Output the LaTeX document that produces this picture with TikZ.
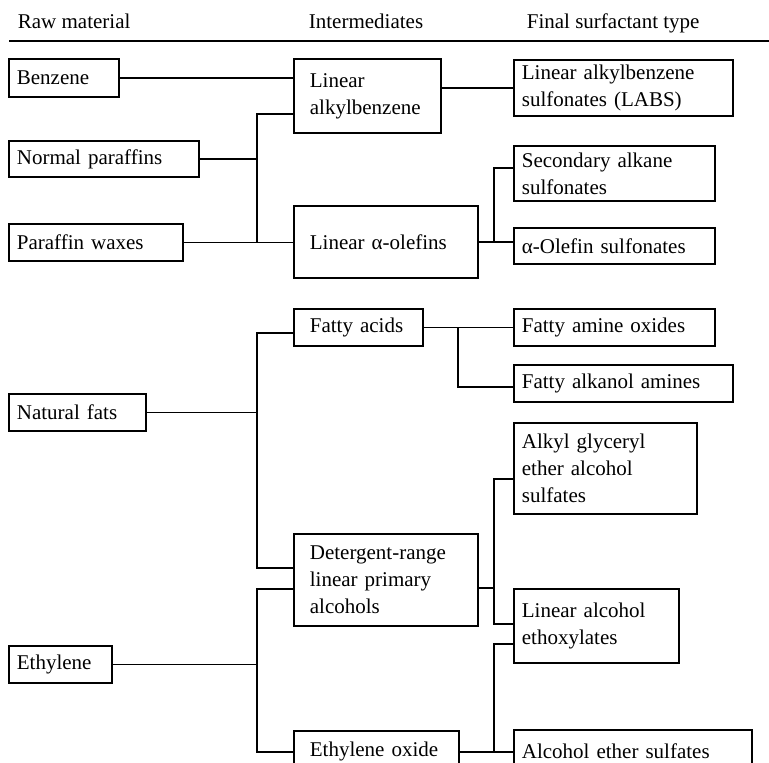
\documentclass[tikz,border=0pt]{standalone}
\usepackage{fontspec}
\setmainfont{Liberation Serif}
\tikzset{x=1pt, y=-1pt,
every node/.style={font=\fontsize{21}{27}\selectfont},
box/.style={ % Sets the properties for each box
draw,
anchor=north west,
align=left,
inner ysep=0pt},
rawbox/.style={box, inner xsep=8pt},
midbox/.style={box, inner xsep=16pt},
endbox/.style={box, inner xsep=8pt},
head/.style={anchor=base west, inner sep=0pt}} % Column titles
\begin{document}
\begin{tikzpicture}[line width=1.8pt]
\useasboundingbox (0,0) rectangle (769,763);
\clip (0,0) rectangle (769,763);
\node[head] (hraw) at (17,28) {Raw material};
\node[head] (hmid) at (308,28) {Intermediates};
\node[head] (hend) at (526,28) {Final surfactant type};
\draw[line width=1.5pt] (9,41) -- (769,41);
\node[rawbox, text width=94pt, minimum height=38pt] (bz) at (8,58) {Benzene};
\node[rawbox, text width=174pt, minimum height=36pt] (np) at (8,140) {Normal paraffins};
\node[rawbox, text width=158pt, minimum height=37pt] (pw) at (8,223) {Paraffin waxes};
\node[rawbox, text width=121pt, minimum height=37pt] (nf) at (8,393) {Natural fats};
\node[rawbox, text width=87pt, minimum height=37pt] (eth) at (8,645) {Ethylene};
\node[midbox, text width=115pt, minimum height=74pt] (lab) at (293,58) {Linear\\alkylbenzene};
\node[midbox, text width=152pt, minimum height=72pt] (lao) at (293,205) {Linear α-olefins};
\node[midbox, text width=97pt, minimum height=37pt] (fa) at (293,308) {Fatty acids};
\node[midbox, text width=152pt, minimum height=92pt] (dr) at (293,533) {Detergent-range\\linear primary\\alcohols};
\node[midbox, text width=133pt, minimum height=42pt] (eo) at (293,730) {Ethylene oxide};
\node[endbox, text width=203pt, minimum height=56pt] (labs) at (513,59) {Linear alkylbenzene\\ sulfonates (LABS)};
\node[endbox, text width=185pt, minimum height=55pt] (sas) at (513,145) {Secondary alkane\\sulfonates};
\node[endbox, text width=185pt, minimum height=36pt] (aos) at (513,227) {α-Olefin sulfonates};
\node[endbox, text width=185pt, minimum height=37pt] (fao) at (513,308) {Fatty amine oxides};
\node[endbox, text width=203pt, minimum height=37pt] (faa) at (513,364) {Fatty alkanol amines};
\node[endbox, text width=167pt, minimum height=91pt] (ageas) at (513,422) {Alkyl glyceryl\\ether alcohol\\sulfates};
\node[endbox, text width=149pt, minimum height=74pt] (lae) at (513,588) {Linear alcohol\\ethoxylates};
\node[endbox, text width=222pt, minimum height=42pt] (aes) at (513,729) {Alcohol ether sulfates};
\coordinate (j1) at (257,114);
\coordinate (j2) at (494,168);
\coordinate (j3) at (257,333);
\coordinate (j4) at (257,568);
\coordinate (j5) at (458,387);
\coordinate (j6) at (494,479);
\coordinate (j7) at (494,624);
\coordinate (j8) at (494,588);
\coordinate (j9) at (257,589);
\coordinate (j10) at (257,752);
\coordinate (j11) at (494,644);
\coordinate (j12) at (494,752);
\draw (bz.east) -- (bz.east -| lab.west);
\draw (np.east) -- (np.east -| j1);
\draw (pw.east) -- (pw.east -| lao.west);
\draw (j1 |- pw.east) -- (j1) -- (j1 -| lab.west);
\draw (labs.west) -- (labs.west -| lab.east);
\draw (lao.east) -- (lao.east -| aos.west);
\draw (j2 -| sas.west) -- (j2) -- (j2 |- lao.east);
\draw (j3 -| fa.west) -- (j3) -- (j4) -- (j4 -| dr.west);
\draw (nf.east) -- (nf.east -| j3);
\draw (fa.east) -- (fa.east -| fao.west);
\draw (j5 |- fa.east) -- (j5) -- (j5 -| faa.west);
\draw (j6 -| ageas.west) -- (j6) -- (j7) -- (j7 -| lae.west);
\draw (j8 -| dr.east) -- (j8);
\draw (j9 -| dr.west) -- (j9) -- (j10) -- (j10 -| eo.west);
\draw (eth.east) -- (eth.east -| j9);
\draw (j11 -| lae.west) -- (j11) -- (j12);
\draw (j10 -| eo.east) -- (j10 -| aes.west);
\end{tikzpicture}
\end{document}
